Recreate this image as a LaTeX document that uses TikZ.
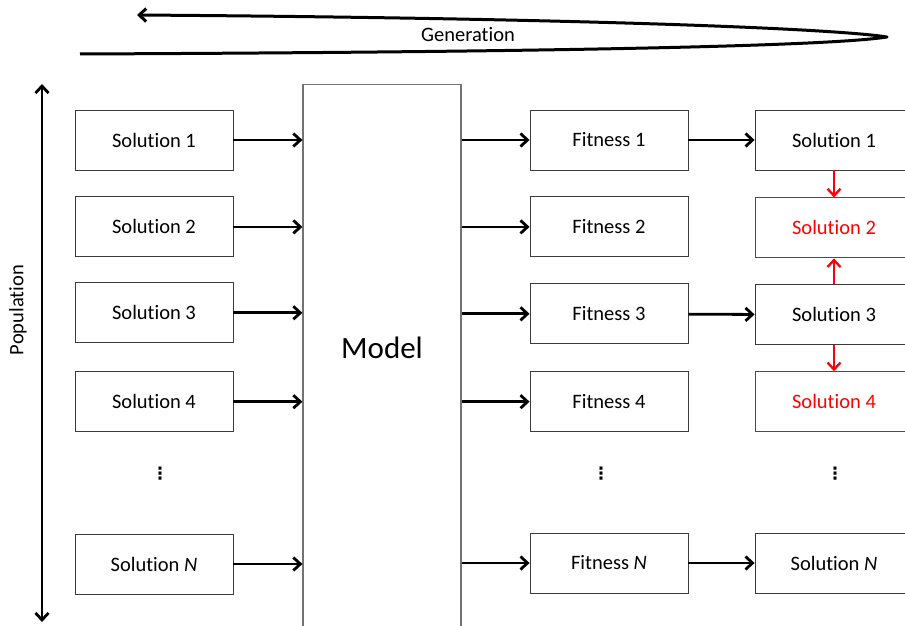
\documentclass[tikz,border=0pt]{standalone}
\usepackage{fontspec}
\setmainfont{Carlito}[Ligatures=NoCommon]
\newfontfamily\symfont{DejaVu Sans}
\usetikzlibrary{arrows.meta, positioning, calc}
\definecolor{BoxGray}{RGB}{60,60,60}
\definecolor{ModelGray}{RGB}{115,115,115}
\definecolor{PickRed}{RGB}{255,0,0}

\begin{document}
\begin{tikzpicture}[
    x=1bp, y=1bp,
    stage/.style={draw=BoxGray, line width=0.9bp, fill=white, minimum width=158bp, minimum height=60bp, inner sep=0pt, font=\fontsize{20.5bp}{24bp}\selectfont},
    picked/.style={stage, draw=PickRed, text=PickRed},
    modelbox/.style={draw=ModelGray, line width=1.2bp, minimum width=158bp, minimum height=700bp, inner sep=0pt, font=\fontsize{31bp}{36bp}\selectfont},
    label/.style={font=\fontsize{20.5bp}{24bp}\selectfont, inner sep=0pt},
    dots/.style={font=\symfont\bfseries\fontsize{17bp}{20bp}\selectfont, inner sep=0pt},
    arrow/.style={-{Straight Barb[length=7bp, width=13bp]}, line width=2.8bp},
    redarrow/.style={arrow, draw=PickRed, line width=2.3bp},
    poparrow/.style={{Straight Barb[length=7bp, width=13bp]}-{Straight Barb[length=7bp, width=13bp]}, line width=2.8bp},
    genline/.style={-{Straight Barb[length=7bp, width=13bp]}, line width=3bp, line join=round}
]
\useasboundingbox (0,0) rectangle (905,-626);
\clip (0,0) rectangle (905,-626);

% Generation arrow
\coordinate (genstart) at (80,-54);
\coordinate (gentip) at (887,-37);
\coordinate (genhead) at (137,-15);
\draw[genline] (genstart) .. controls (560,-52) and (830,-46) .. (gentip)
    .. controls (830,-28) and (560,-18) .. (genhead);
\node[label] (gen) at (468,-35) {Generation};

% Population arrow
\coordinate (poptop) at (42,-84);
\coordinate (popbot) at (42,-622);
\draw[poparrow] (poptop) -- (popbot);
\node[label, rotate=90] (pop) at (18,-310) {Population};

% Solutions (input)
\node[stage] (s1) at (154,-140) {Solution 1};
\node[stage, below=26bp of s1] (s2) {Solution 2};
\node[stage, below=25bp of s2] (s3) {Solution 3};
\node[stage, below=28bp of s3] (s4) {Solution 4};
\node[dots] (sdots) at (160,-474) {⋮};
\node[stage] (sN) at (154,-564) {Solution \textit{N}};

% Model
\node[modelbox, anchor=north] (model) at (382,-84) {\raisebox{76bp}[0pt][0pt]{Model}};

% Fitness
\node[stage] (f1) at (609,-140) {Fitness 1};
\node[stage, below=26bp of f1] (f2) {Fitness 2};
\node[stage, below=26bp of f2] (f3) {Fitness 3};
\node[stage, below=27bp of f3] (f4) {Fitness 4};
\node[dots] (fdots) at (601,-474) {⋮};
\node[stage] (fN) at (609,-563) {Fitness \textit{N}};

% Solutions (selected)
\node[stage] (r1) at (834,-140) {Solution 1};
\node[picked, below=27bp of r1] (r2) {Solution 2};
\node[stage, below=26bp of r2] (r3) {Solution 3};
\node[picked, below=26bp of r3] (r4) {Solution 4};
\node[dots] (rdots) at (835,-474) {⋮};
\node[stage] (rN) at (834,-563) {Solution \textit{N}};

% Solutions into the model
\draw[arrow] (s1.east) -- (s1.east -| model.west);
\draw[arrow] (s2.east) -- (s2.east -| model.west);
\draw[arrow] (s3.east) -- (s3.east -| model.west);
\draw[arrow] (s4.east) -- (s4.east -| model.west);
\draw[arrow] (sN.east) -- (sN.east -| model.west);

% Model to fitness
\draw[arrow] (f1.west -| model.east) -- (f1.west);
\draw[arrow] (f2.west -| model.east) -- (f2.west);
\draw[arrow] (f3.west -| model.east) -- (f3.west);
\draw[arrow] (f4.west -| model.east) -- (f4.west);
\draw[arrow] (fN.west -| model.east) -- (fN.west);

% Fitness to selected solutions
\draw[arrow] (f1) -- (r1);
\draw[arrow] (f3) -- (r3);
\draw[arrow] (fN) -- (rN);

% Replacement
\draw[redarrow] (r1) -- (r2);
\draw[redarrow] (r3) -- (r2);
\draw[redarrow] (r3) -- (r4);

\end{tikzpicture}
\end{document}
